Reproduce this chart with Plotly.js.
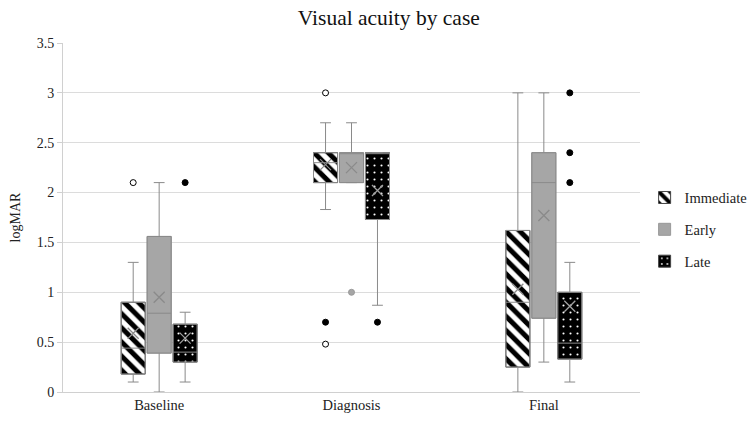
<!DOCTYPE html>
<html>
<head>
<meta charset="utf-8">
<script src="https://cdn.plot.ly/plotly-3.0.1.min.js"></script>
<style>html,body{margin:0;padding:0;background:#fff}#chart{width:755px;height:426px}</style>
</head>
<body>
<div id="chart"></div>
<script>
// ---- data ----
const categories = ['Baseline', 'Diagnosis', 'Final'];
const seriesNames = ['Immediate', 'Early', 'Late'];

const immediateQ1     = [0.18, 2.10, 0.25];
const immediateMedian = [0.44, 2.30, 0.90];
const immediateQ3     = [0.90, 2.40, 1.62];
const immediateLow    = [0.10, 1.83, 0.00];
const immediateHigh   = [1.30, 2.70, 3.00];
const immediateMean   = [0.59, 2.28, 1.03];
const immediateOutCat = ['Baseline', 'Diagnosis', 'Diagnosis', 'Diagnosis'];
const immediateOutVal = [2.10, 3.00, 0.70, 0.48];

const earlyQ1     = [0.39, 2.10, 0.74];
const earlyMedian = [0.79, 2.40, 2.10];
const earlyQ3     = [1.56, 2.40, 2.40];
const earlyLow    = [0.00, 2.10, 0.30];
const earlyHigh   = [2.10, 2.70, 3.00];
const earlyMean   = [0.95, 2.25, 1.77];
const earlyOutCat = ['Diagnosis'];
const earlyOutVal = [1.00];

const lateQ1     = [0.30, 1.73, 0.33];
const lateMedian = [0.40, 2.40, 0.49];
const lateQ3     = [0.68, 2.40, 1.00];
const lateLow    = [0.10, 0.87, 0.10];
const lateHigh   = [0.80, 2.40, 1.30];
const lateMean   = [0.54, 2.02, 0.86];
const lateOutCat = ['Baseline', 'Diagnosis', 'Final', 'Final', 'Final'];
const lateOutVal = [2.10, 0.70, 3.00, 2.40, 2.10];

// ---- styling / layout ----
const FONT = 'Liberation Serif';
const OFFSETS = [-0.135, 0, 0.135];
const BOXW = 0.125;
const LINE = '#8a8a8a';

const series = [
  {name: seriesNames[0], q1: immediateQ1, med: immediateMedian, q3: immediateQ3, lo: immediateLow, hi: immediateHigh, mean: immediateMean, oc: immediateOutCat, ov: immediateOutVal,
   marker: {color: 'white', line: {color: '#444', width: 1}, pattern: {shape: '\\', fgcolor: 'black', bgcolor: 'white', size: 10, solidity: 0.5}},
   outColor: ['white', 'white', 'black', 'white'], outLine: 'black', meanColor: '#8a8a8a'},
  {name: seriesNames[1], q1: earlyQ1, med: earlyMedian, q3: earlyQ3, lo: earlyLow, hi: earlyHigh, mean: earlyMean, oc: earlyOutCat, ov: earlyOutVal,
   marker: {color: '#a6a6a6', line: {color: '#999', width: 1}},
   outColor: ['#a6a6a6'], outLine: '#999', meanColor: '#8a8a8a'},
  {name: seriesNames[2], q1: lateQ1, med: lateMedian, q3: lateQ3, lo: lateLow, hi: lateHigh, mean: lateMean, oc: lateOutCat, ov: lateOutVal,
   marker: {color: 'black', line: {color: '#444', width: 1}, pattern: {shape: '.', fgcolor: 'white', bgcolor: 'black', size: 7, solidity: 0.07}},
   outColor: ['black', 'black', 'black', 'black', 'black'], outLine: 'black', meanColor: '#a0a0a0'}
];

const traces = [];
series.forEach((s, i) => {
  const xs = categories.map((c, k) => k + OFFSETS[i]);
  traces.push({
    type: 'bar', name: s.name, x: xs, base: s.q1, y: s.q3.map((v, k) => v - s.q1[k]),
    width: BOXW, marker: s.marker, legendgroup: s.name, hoverinfo: 'skip'
  });
});
series.forEach((s, i) => {
  const xs = categories.map((c, k) => k + OFFSETS[i]);
  traces.push({
    type: 'box', name: s.name, x: xs, q1: s.q1, median: s.med, q3: s.q3,
    lowerfence: s.lo, upperfence: s.hi, boxpoints: false, width: BOXW,
    whiskerwidth: 0.45, fillcolor: 'rgba(0,0,0,0)', line: {color: LINE, width: 1},
    showlegend: false, hoverinfo: 'skip'
  });
});
series.forEach((s, i) => {
  const xs = categories.map((c, k) => k + OFFSETS[i]);
  traces.push({
    type: 'scatter', mode: 'markers', x: xs, y: s.mean, showlegend: false, hoverinfo: 'skip',
    marker: {symbol: 'x-thin-open', size: 11, color: s.meanColor, line: {color: s.meanColor, width: 1.3}}
  });
  traces.push({
    type: 'scatter', mode: 'markers', showlegend: false, hoverinfo: 'skip',
    x: s.oc.map(c => categories.indexOf(c) + OFFSETS[i]), y: s.ov,
    marker: {symbol: 'circle', size: 6, color: s.outColor, line: {color: s.outLine, width: 1}}
  });
});

const layout = {
  width: 755, height: 426,
  margin: {l: 63, r: 115, t: 43, b: 34, autoexpand: false},
  paper_bgcolor: 'white', plot_bgcolor: 'white',
  font: {family: FONT, size: 14, color: '#222'},
  title: {text: 'Visual acuity by case', font: {family: FONT, size: 21.5, color: '#111'},
          xref: 'container', x: 0.515, xanchor: 'center', yref: 'container', y: 0.958, yanchor: 'middle'},
  barmode: 'overlay',
  boxmode: 'overlay',
  xaxis: {range: [-0.5, 2.5], tickvals: [0, 1, 2], ticktext: categories, showgrid: false,
          zeroline: false, showline: true, linecolor: '#d0d0d0', ticks: '',
          tickfont: {family: FONT, size: 14.5, color: '#222'}},
  yaxis: {range: [0, 3.5], dtick: 0.5, showgrid: true, gridcolor: '#dcdcdc', zeroline: false,
          showline: true, linecolor: '#d0d0d0', ticks: 'outside', ticklen: 5, tickcolor: '#d0d0d0',
          tickfont: {family: FONT, size: 14, color: '#222'},
          title: {text: 'logMAR', font: {family: FONT, size: 14, color: '#222'}, standoff: 12}},
  legend: {x: 1.008, xanchor: 'left', y: 0.603, yanchor: 'top', traceorder: 'grouped',
           tracegroupgap: 10, font: {family: FONT, size: 14.5, color: '#222'}, bgcolor: 'rgba(0,0,0,0)'},
  showlegend: true
};

Plotly.newPlot('chart', traces, layout, {displayModeBar: false, staticPlot: true});
</script>
</body>
</html>
